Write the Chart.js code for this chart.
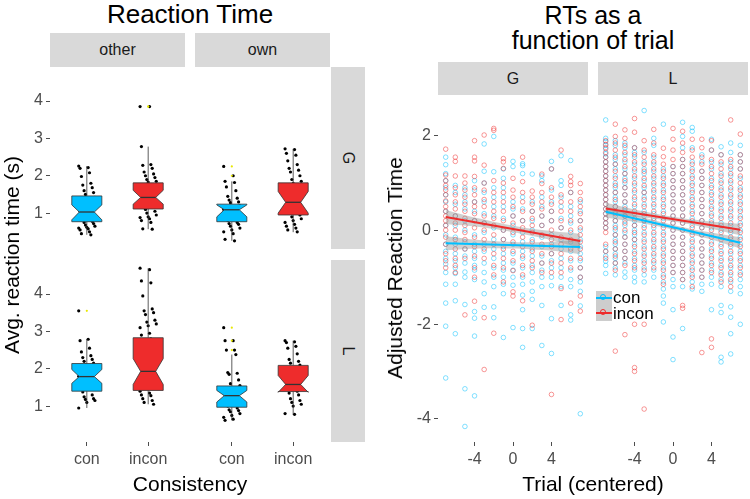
<!DOCTYPE html>
<html>
<head>
<title>Reaction Time</title>
<script src="https://cdn.jsdelivr.net/npm/chart.js"></script>
<style>
    body { margin: 0; background: #fff; font-family: "Liberation Sans", Arial, sans-serif; }
    #wrap { position: relative; width: 750px; height: 499px; overflow: hidden; }
    canvas, .lbl, .strip, .key { position: absolute; }
    .strip { background: #d9d9d9; color: #1a1a1a; font-size: 16px; display: flex; align-items: center; justify-content: center; }
    .lbl { white-space: nowrap; transform: translate(-50%, -50%); color: #000; }
    .key { width: 16px; height: 15px; background: #cdcdcd; }
    .key .kl { position: absolute; left: 0; right: 0; top: 6px; height: 2px; }
    .key .kc { position: absolute; left: 4px; top: 3px; width: 6px; height: 6px; border: 1px solid; border-radius: 50%; box-sizing: border-box; }
</style>
</head>
<body>
<div id="wrap">
    <div class="lbl" style="left:190px;top:14px;font-size:26px;">Reaction Time</div>
    <div class="lbl" style="left:593px;top:15px;font-size:25px;">RTs as a</div>
    <div class="lbl" style="left:593px;top:40px;font-size:25px;">function of trial</div>

    <div class="strip" style="left:50px;top:33px;width:135px;height:34px;">other</div>
    <div class="strip" style="left:195px;top:33px;width:135px;height:34px;">own</div>
    <div class="strip" style="left:331px;top:67px;width:34px;height:182px;"><span style="transform:rotate(90deg)">G</span></div>
    <div class="strip" style="left:331px;top:260px;width:34px;height:182px;"><span style="transform:rotate(90deg)">L</span></div>
    <div class="strip" style="left:438px;top:62px;width:150px;height:33px;">G</div>
    <div class="strip" style="left:598px;top:62px;width:150px;height:33px;">L</div>

    <canvas id="c1" width="185" height="182" style="left:0;top:67px;"></canvas>
    <canvas id="c2" width="135" height="182" style="left:195px;top:67px;"></canvas>
    <canvas id="c3" width="185" height="222" style="left:0;top:260px;"></canvas>
    <canvas id="c4" width="135" height="222" style="left:195px;top:260px;"></canvas>
    <canvas id="c5" width="208" height="387" style="left:380px;top:95px;"></canvas>
    <canvas id="c6" width="150" height="387" style="left:598px;top:95px;"></canvas>

    <div class="lbl" style="left:12px;top:255px;font-size:21px;transform:translate(-50%,-50%) rotate(-90deg);">Avg. reaction time (s)</div>
    <div class="lbl" style="left:190px;top:484px;font-size:21px;">Consistency</div>
    <div class="lbl" style="left:395px;top:268px;font-size:21px;transform:translate(-50%,-50%) rotate(-90deg);">Adjusted Reaction Time</div>
    <div class="lbl" style="left:593px;top:484px;font-size:21px;">Trial (centered)</div>

    <div class="key" style="left:596px;top:291px;"><div class="kl" style="background:#00bfff"></div><div class="kc" style="border-color:#00bfff"></div></div>
    <div class="key" style="left:596px;top:306px;"><div class="kl" style="background:#ee2c2c"></div><div class="kc" style="border-color:#ee2c2c"></div></div>
    <div class="lbl" style="left:613px;top:298px;font-size:17px;transform:translate(0,-50%);">con</div>
    <div class="lbl" style="left:613px;top:314px;font-size:17px;transform:translate(0,-50%);">incon</div>
</div>

<script>
    // ---- left: box plots, panels in order otherG, ownG, otherL, ownL; each [con, incon]
    const consistency = ['con', 'incon'];
    const boxQ1      = [[0.77, 1.11], [0.77, 0.95], [1.40, 1.42], [0.97, 1.39]];
    const boxNotchLo = [[0.82, 1.24], [0.90, 1.00], [1.61, 1.58], [1.11, 1.37]];
    const boxMedian  = [[1.03, 1.42], [1.09, 1.29], [1.79, 1.93], [1.28, 1.58]];
    const boxNotchHi = [[1.22, 1.61], [1.22, 1.58], [1.98, 2.27], [1.42, 1.82]];
    const boxQ3      = [[1.46, 1.81], [1.24, 1.81], [2.14, 2.83], [1.54, 2.09]];
    const whiskerLo  = [[0.42, 0.57], [0.26, 0.49], [0.95, 1.05], [0.62, 0.78]];
    const whiskerHi  = [[2.26, 2.78], [1.85, 2.72], [2.79, 4.69], [2.38, 2.75]];
    const outliers   = [[[], [3.85, 3.85]], [[2.25, 2.0], []], [[3.55], []], [[3.1, 2.75, 2.5], []]];

    const otherGPts = [
        [2.26, 2.22, 2.2, 2.08, 1.98, 1.8, 1.75, 1.68, 1.6, 1.55, 1.5, 1.42, 1.3, 1.2, 1.1, 1.05, 1.0, 0.95, 0.9, 0.85, 0.78, 0.75, 0.72, 0.68, 0.65, 0.62, 0.6, 0.58, 0.55, 0.5, 0.45, 0.42],
        [3.85, 3.85, 2.78, 2.3, 2.28, 2.2, 2.1, 2.05, 2.0, 1.95, 1.9, 1.85, 1.83, 1.7, 1.6, 1.5, 1.45, 1.4, 1.3, 1.2, 1.15, 1.1, 1.05, 1.0, 0.95, 0.9, 0.88, 0.85, 0.8, 0.75, 0.58, 0.57]
    ];
    const ownGPts = [
        [2.25, 2.0, 1.85, 1.82, 1.7, 1.6, 1.45, 1.4, 1.35, 1.3, 1.28, 1.2, 1.15, 1.1, 1.05, 1.0, 0.95, 0.9, 0.85, 0.8, 0.75, 0.72, 0.7, 0.65, 0.6, 0.55, 0.5, 0.45, 0.3, 0.26],
        [2.72, 2.7, 2.6, 2.55, 2.4, 2.3, 2.2, 2.15, 2.1, 2.0, 1.9, 1.85, 1.8, 1.7, 1.6, 1.5, 1.4, 1.3, 1.25, 1.2, 1.1, 1.0, 0.95, 0.9, 0.85, 0.8, 0.75, 0.7, 0.65, 0.6, 0.55, 0.5]
    ];
    const otherLPts = [
        [3.55, 2.79, 2.75, 2.55, 2.45, 2.35, 2.3, 2.25, 2.2, 2.15, 2.1, 2.0, 1.9, 1.8, 1.75, 1.7, 1.6, 1.5, 1.45, 1.38, 1.3, 1.25, 1.2, 1.18, 1.15, 1.1, 0.95],
        [4.69, 4.65, 4.35, 4.3, 3.95, 3.6, 3.55, 3.5, 3.45, 3.3, 3.25, 3.2, 3.15, 3.1, 2.95, 2.9, 2.8, 2.6, 2.4, 2.2, 2.0, 1.9, 1.8, 1.7, 1.6, 1.5, 1.4, 1.35, 1.3, 1.28, 1.2, 1.15, 1.1, 1.05]
    ];
    const ownLPts = [
        [3.1, 2.75, 2.75, 2.5, 2.5, 2.38, 1.9, 1.88, 1.85, 1.7, 1.6, 1.55, 1.5, 1.45, 1.4, 1.3, 1.25, 1.2, 1.1, 1.0, 0.95, 0.9, 0.88, 0.85, 0.8, 0.75, 0.7, 0.65, 0.62],
        [2.75, 2.72, 2.7, 2.6, 2.55, 2.4, 2.25, 2.2, 2.15, 2.1, 2.0, 1.9, 1.8, 1.7, 1.6, 1.55, 1.5, 1.45, 1.4, 1.35, 1.3, 1.2, 1.15, 1.1, 1.05, 1.0, 0.8, 0.78]
    ];

    // ---- right: adjusted RT by trial (-7..7), one list per trial
    const trials = [-7, -6, -5, -4, -3, -2, -1, 0, 1, 2, 3, 4, 5, 6, 7];
    const gCon = [
        [1.55, 1.39, 1.2, 1.05, 0.9, 0.75, 0.6, 0.4, 0.1, -0.1, -0.3, -0.45, -0.6, -0.72, -0.9, -1.15, -1.55, -2.04, -3.14],
        [0.95, 0.8, 0.55, 0.3, 0.1, -0.15, -0.3, -0.5, -0.65, -0.8, -0.92, -1.15, -1.5, -2.2],
        [0.9, 0.75, 0.6, 0.45, 0.2, 0.0, -0.25, -0.4, -0.55, -0.7, -0.89, -1.0, -1.58, -3.37, -4.17],
        [1.05, 0.85, 0.6, 0.4, 0.2, -0.1, -0.3, -0.45, -0.6, -0.75, -0.85, -1.05, -1.73, -1.87, -2.25, -3.52],
        [1.83, 1.25, 1.0, 0.8, 0.6, 0.35, 0.15, -0.05, -0.3, -0.45, -0.7, -0.9, -1.1, -1.35, -1.64],
        [1.99, 1.24, 0.9, 0.7, 0.5, 0.3, 0.05, -0.2, -0.4, -0.6, -0.8, -1.0, -1.2, -1.63, -1.86],
        [1.3, 1.1, 0.9, 0.7, 0.5, 0.25, 0.0, -0.2, -0.35, -0.5, -0.7, -0.85, -1.0, -1.15, -1.35, -2.28],
        [1.46, 1.35, 0.6, 0.45, 0.3, 0.1, -0.1, -0.3, -0.5, -0.7, -0.85, -1.0, -1.17, -2.07],
        [1.41, 1.37, 1.2, 0.7, 0.45, 0.2, -0.05, -0.25, -0.45, -0.6, -0.8, -1.0, -1.15, -1.38, -1.69, -2.09, -2.49],
        [1.19, 0.6, 0.4, 0.2, 0.0, -0.2, -0.4, -0.55, -0.75, -0.9, -1.1, -1.3, -1.47, -2.09],
        [1.15, 1.05, 0.7, 0.5, 0.3, 0.1, -0.15, -0.35, -0.55, -0.7, -0.85, -1.0, -1.2, -1.6, -2.45],
        [1.46, 1.3, 0.85, 0.6, 0.4, 0.2, -0.1, -0.3, -0.5, -0.65, -0.8, -1.0, -1.18, -1.88, -2.62],
        [1.58, 1.05, 0.95, 0.7, 0.5, 0.25, 0.05, -0.2, -0.4, -0.6, -0.8, -1.0, -1.2, -1.6],
        [1.48, 0.8, 0.5, 0.3, 0.15, -0.05, -0.25, -0.45, -0.65, -0.85, -1.05, -1.2, -1.8, -1.91],
        [0.6, 0.4, 0.2, 0.0, -0.2, -0.35, -0.5, -0.65, -0.8, -1.0, -1.1, -1.3, -1.61, -3.9]
    ];
    const gIncon = [
        [1.72, 1.17, 1.05, 0.95, 0.85, 0.75, 0.62, 0.5, 0.4, 0.3, 0.2, 0.1, 0.0, -0.15, -0.3, -0.5, -0.65, -0.8],
        [1.55, 1.46, 1.15, 0.9, 0.75, 0.6, 0.45, 0.3, 0.15, 0.0, -0.2, -0.4, -0.6, -0.75, -0.9],
        [1.15, 1.0, 0.85, 0.7, 0.55, 0.4, 0.25, 0.1, -0.05, -0.2, -0.4, -0.6, -1.8],
        [1.9, 1.55, 1.47, 1.14, 0.9, 0.75, 0.6, 0.5, 0.35, 0.2, 0.05, -0.15, -0.35, -0.55, -0.8, -1.0, -1.51],
        [2.02, 1.38, 1.0, 0.85, 0.65, 0.5, 0.3, 0.15, 0.0, -0.2, -0.4, -0.6, -1.86, -2.96],
        [2.16, 2.12, 1.05, 0.8, 0.6, 0.4, 0.25, 0.1, -0.1, -0.3, -0.5, -0.75, -0.95, -2.19],
        [1.52, 1.45, 1.31, 1.0, 0.8, 0.6, 0.4, 0.2, 0.0, -0.2, -0.4, -0.6, -0.8, -1.1],
        [1.1, 0.85, 0.7, 0.5, 0.3, 0.15, -0.05, -0.25, -0.45, -0.65, -0.86, -1.31, -1.4],
        [1.55, 1.03, 0.8, 0.6, 0.4, 0.2, 0.05, -0.15, -0.35, -0.55, -0.75, -0.95, -1.5],
        [0.83, 0.7, 0.55, 0.4, 0.25, 0.1, -0.05, -0.25, -0.45, -0.65, -0.8, -2.02],
        [1.19, 0.99, 0.8, 0.6, 0.45, 0.3, 0.1, -0.1, -0.3, -0.5, -0.7, -0.9],
        [1.3, 0.9, 0.7, 0.55, 0.4, 0.2, 0.0, -0.2, -0.35, -0.5, -0.7, -0.9, -3.49],
        [1.7, 0.75, 0.6, 0.4, 0.2, 0.05, -0.15, -0.3, -0.5, -0.7, -0.9, -1.24, -1.9],
        [1.14, 1.03, 0.95, 0.8, 0.6, 0.4, 0.2, 0.0, -0.2, -0.4, -0.6, -0.8, -1.55],
        [0.99, 0.8, 0.65, 0.5, 0.35, 0.2, 0.05, -0.1, -0.25, -0.4, -0.6, -0.8, -1.0, -1.4, -1.72]
    ];
    const lCon = [
        [2.34, 1.95, 1.88, 1.8, 1.72, 1.62, 1.55, 1.45, 1.35, 1.25, 1.15, 1.05, 0.95, 0.85, 0.75, 0.65, 0.55, 0.45, 0.35, 0.25, 0.15, 0.05, -0.35, -0.45, -0.55, -0.66, -0.75, -0.92],
        [1.9, 1.8, 1.6, 1.5, 1.4, 1.3, 1.15, 1.0, 0.9, 0.8, 0.7, 0.6, 0.5, 0.4, 0.3, 0.2, 0.1, 0.0, -0.1, -0.2, -0.3, -0.4, -0.5, -0.6, -0.7, -0.8, -0.95],
        [1.85, 1.75, 1.6, 1.45, 1.3, 1.2, 1.1, 1.0, 0.9, 0.75, 0.6, 0.5, 0.4, 0.3, 0.2, 0.1, -0.05, -0.15, -0.3, -0.45, -0.6, -0.7, -0.89, -1.0],
        [1.75, 1.65, 1.55, 1.4, 1.25, 1.1, 0.95, 0.8, 0.65, 0.5, 0.35, 0.2, 0.1, 0.0, -0.1, -0.2, -0.3, -0.45, -0.6, -0.75, -0.85, -1.0, -1.1],
        [2.54, 1.65, 1.45, 1.3, 1.2, 1.05, 0.9, 0.8, 0.7, 0.55, 0.4, 0.3, 0.2, 0.1, -0.05, -0.2, -0.35, -0.5, -0.65, -0.8, -0.95, -1.1],
        [1.95, 1.8, 1.55, 1.4, 1.25, 1.1, 0.95, 0.8, 0.65, 0.5, 0.35, 0.2, 0.05, -0.1, -0.25, -0.4, -0.55, -0.7, -0.85, -1.0],
        [2.25, 1.3, 1.15, 1.0, 0.85, 0.7, 0.55, 0.4, 0.25, 0.1, -0.05, -0.2, -0.35, -0.5, -0.65, -0.8, -0.95, -1.1, -1.25, -1.4, -1.55, -1.95],
        [1.35, 1.2, 1.05, 0.9, 0.75, 0.6, 0.45, 0.3, 0.15, 0.0, -0.15, -0.3, -0.45, -0.6, -0.75, -0.9, -1.05, -1.2, -1.69, -2.27, -2.75],
        [2.29, 1.99, 1.75, 1.5, 1.35, 1.2, 1.05, 0.9, 0.75, 0.6, 0.45, 0.3, 0.15, 0.0, -0.15, -0.3, -0.45, -0.6, -0.75, -0.9, -1.05, -1.2, -2.09],
        [2.18, 2.1, 1.75, 1.45, 1.3, 1.15, 1.0, 0.85, 0.7, 0.55, 0.4, 0.25, 0.1, -0.05, -0.2, -0.35, -0.5, -0.65, -0.8, -0.95, -1.1, -1.25],
        [1.6, 1.45, 1.25, 1.1, 0.95, 0.8, 0.65, 0.5, 0.35, 0.2, 0.05, -0.1, -0.25, -0.4, -0.55, -0.7, -0.85, -1.0, -1.15, -1.3],
        [1.93, 1.7, 1.45, 1.3, 1.1, 0.95, 0.8, 0.65, 0.5, 0.35, 0.2, 0.05, -0.1, -0.25, -0.4, -0.55, -0.7, -0.85, -1.0, -1.15, -1.69],
        [1.77, 1.6, 1.4, 1.2, 1.05, 0.9, 0.75, 0.6, 0.45, 0.3, 0.15, 0.0, -0.15, -0.3, -0.45, -0.6, -0.75, -0.9, -1.05, -1.2, -1.6, -1.75, -2.7, -2.8],
        [1.85, 1.65, 1.45, 1.3, 1.15, 1.0, 0.85, 0.7, 0.55, 0.4, 0.25, 0.1, -0.05, -0.2, -0.35, -0.5, -0.65, -0.8, -0.95, -1.1, -1.3, -1.63, -1.85, -2.2, -2.63],
        [1.8, 1.6, 1.45, 1.3, 1.1, 0.9, 0.75, 0.6, 0.45, 0.3, 0.15, 0.0, -0.15, -0.3, -0.45, -0.6, -0.75, -0.9, -1.05, -1.2, -1.35, -2.0]
    ];
    const lIncon = [
        [1.9, 1.82, 1.75, 1.65, 1.55, 1.45, 1.35, 1.25, 1.15, 1.05, 0.95, 0.85, 0.75, 0.65, 0.55, 0.45, 0.35, 0.25, 0.15, 0.05, -0.05, -0.3, -0.45, -0.6],
        [2.25, 1.99, 1.85, 1.7, 1.55, 1.4, 1.25, 1.1, 0.95, 0.8, 0.65, 0.5, 0.35, 0.2, 0.05, -0.1, -0.25, -0.4, -0.55, -0.7, -0.85, -2.57],
        [2.13, 1.95, 1.8, 1.65, 1.5, 1.35, 1.2, 1.05, 0.9, 0.75, 0.6, 0.45, 0.3, 0.15, 0.0, -0.15, -0.3, -0.45, -0.6, -0.75, -2.22],
        [2.37, 2.08, 1.75, 1.6, 1.45, 1.3, 1.15, 1.0, 0.85, 0.7, 0.55, 0.4, 0.25, 0.1, -0.05, -0.2, -0.35, -0.5, -0.65, -0.8, -2.0, -2.92, -3.0],
        [1.9, 1.7, 1.55, 1.4, 1.25, 1.1, 0.95, 0.8, 0.65, 0.5, 0.35, 0.2, 0.05, -0.1, -0.25, -0.4, -0.55, -0.7, -0.85, -2.0, -3.8],
        [2.14, 1.85, 1.6, 1.45, 1.3, 1.15, 1.0, 0.85, 0.7, 0.55, 0.4, 0.25, 0.1, -0.05, -0.2, -0.35, -0.5, -0.65, -0.8],
        [1.74, 1.56, 1.4, 1.25, 1.1, 0.95, 0.8, 0.65, 0.5, 0.35, 0.2, 0.05, -0.1, -0.25, -0.4, -0.55, -0.7, -0.85, -1.0, -1.15],
        [2.16, 1.93, 1.7, 1.5, 1.35, 1.2, 1.05, 0.9, 0.75, 0.6, 0.45, 0.3, 0.15, 0.0, -0.15, -0.3, -0.45, -0.6, -0.75, -0.9],
        [2.1, 1.85, 1.65, 1.5, 1.35, 1.2, 1.05, 0.9, 0.75, 0.6, 0.45, 0.3, 0.15, 0.0, -0.15, -0.3, -0.45, -0.6, -0.75, -0.9, -1.05, -1.6, -1.66],
        [1.93, 1.7, 1.55, 1.4, 1.25, 1.1, 0.95, 0.8, 0.65, 0.5, 0.35, 0.2, 0.05, -0.1, -0.25, -0.4, -0.55, -0.7, -0.85, -1.0, -1.2],
        [1.93, 1.75, 1.55, 1.4, 1.25, 1.1, 0.95, 0.8, 0.65, 0.5, 0.35, 0.2, 0.05, -0.1, -0.25, -0.4, -0.55, -0.7, -0.85, -1.0, -2.6],
        [1.9, 1.7, 1.5, 1.35, 1.2, 1.05, 0.9, 0.75, 0.6, 0.45, 0.3, 0.15, 0.0, -0.15, -0.3, -0.45, -0.6, -0.75, -0.9, -2.31, -2.49],
        [1.6, 1.45, 1.3, 1.15, 1.0, 0.85, 0.7, 0.55, 0.4, 0.25, 0.1, -0.05, -0.2, -0.35, -0.5, -0.65, -0.8, -0.95, -1.1],
        [2.34, 1.5, 1.35, 1.2, 1.05, 0.9, 0.75, 0.6, 0.45, 0.3, 0.15, 0.0, -0.15, -0.3, -0.45, -0.6, -0.75, -0.9, -1.05, -1.2],
        [2.04, 1.6, 1.45, 1.3, 1.15, 1.0, 0.85, 0.7, 0.55, 0.4, 0.25, 0.1, -0.05, -0.2, -0.35, -0.5, -0.65, -0.8, -0.95]
    ];

    // fitted lines (at trial -7 and 7) and confidence bands
    const fitEnds = [-7, 7];
    const gConFit = [-0.28, -0.36], gInconFit = [0.28, -0.23];
    const lConFit = [0.39, -0.27], lInconFit = [0.46, 0.01];
    const bandTrials = [-7, -3.5, 0, 3.5, 7];
    const gConUp = [-0.13, -0.21, -0.25, -0.25, -0.21], gConLo = [-0.43, -0.39, -0.39, -0.43, -0.51];
    const gIncUp = [0.43, 0.245, 0.095, -0.01, -0.08], gIncLo = [0.13, 0.065, -0.045, -0.19, -0.38];
    const lConUp = [0.51, 0.295, 0.11, -0.035, -0.15], lConLo = [0.27, 0.155, 0.01, -0.175, -0.39];
    const lIncUp = [0.58, 0.418, 0.285, 0.193, 0.13], lIncLo = [0.34, 0.278, 0.185, 0.053, -0.11];

    const BLUE = '#00bfff', RED = '#ee2c2c';
    const FONT = '"Liberation Sans", Arial, sans-serif';
    Chart.defaults.font.family = FONT;

    const tickGrid = { drawOnChartArea: false, drawTicks: true, tickLength: 4, color: '#4d4d4d' };

    // fixed axis sizes, no label overhang padding, so panels line up
    function fixY(w) {
        return s => { s.width = w; s.paddingTop = 0; s.paddingBottom = 0; };
    }
    function fixX(h) {
        return s => { s.height = h; s.paddingLeft = 0; s.paddingRight = 0; };
    }

    // draws the notched boxes after the jitter points, before the outliers
    const boxPlugin = {
        id: 'boxes',
        afterDatasetDraw(chart, args, opts) {
            if (args.index !== 1) return;
            const p = opts.panel;
            const xs = chart.scales.x, ys = chart.scales.y, ctx = chart.ctx;
            const fills = [BLUE, RED];
            for (let c = 0; c < 2; c++) {
                const X = xs.getPixelForValue(c + 1);
                const L = xs.getPixelForValue(c + 1 - 0.245), R = xs.getPixelForValue(c + 1 + 0.245);
                const ins = (R - L) / 4;
                const y = v => ys.getPixelForValue(v);
                ctx.save();
                ctx.strokeStyle = '#333333';
                ctx.lineWidth = 0.8;
                ctx.beginPath();
                ctx.moveTo(X, y(boxQ3[p][c])); ctx.lineTo(X, y(whiskerHi[p][c]));
                ctx.moveTo(X, y(boxQ1[p][c])); ctx.lineTo(X, y(whiskerLo[p][c]));
                ctx.stroke();
                ctx.beginPath();
                ctx.moveTo(L, y(boxQ3[p][c]));
                ctx.lineTo(R, y(boxQ3[p][c]));
                ctx.lineTo(R, y(boxNotchHi[p][c]));
                ctx.lineTo(R - ins, y(boxMedian[p][c]));
                ctx.lineTo(R, y(boxNotchLo[p][c]));
                ctx.lineTo(R, y(boxQ1[p][c]));
                ctx.lineTo(L, y(boxQ1[p][c]));
                ctx.lineTo(L, y(boxNotchLo[p][c]));
                ctx.lineTo(L + ins, y(boxMedian[p][c]));
                ctx.lineTo(L, y(boxNotchHi[p][c]));
                ctx.closePath();
                ctx.fillStyle = fills[c];
                ctx.fill();
                ctx.stroke();
                ctx.lineWidth = 1.3;
                ctx.beginPath();
                ctx.moveTo(L + ins, y(boxMedian[p][c]));
                ctx.lineTo(R - ins, y(boxMedian[p][c]));
                ctx.stroke();
                ctx.restore();
            }
        }
    };

    function boxChart(id, panel, pts, showY, showX) {
        const jitter = [];
        const outs = [];
        pts.forEach((vals, c) => {
            vals.forEach((v, i) => jitter.push({ x: c + 1 + ((((i * 7) % 13) - 6) * 0.022), y: v }));
            outliers[panel][c].forEach(v => outs.push({ x: c + 1, y: v }));
        });
        new Chart(document.getElementById(id), {
            type: 'scatter',
            data: {
                datasets: [
                    { data: outs, pointRadius: 1.1, pointBackgroundColor: '#e8e800', pointBorderWidth: 0 },
                    { data: jitter, pointRadius: 1.6, pointBackgroundColor: '#000', pointBorderWidth: 0 }
                ]
            },
            plugins: [boxPlugin],
            options: {
                responsive: false, animation: false, events: [],
                layout: { padding: 0, autoPadding: false },
                plugins: { legend: { display: false }, tooltip: { enabled: false }, boxes: { panel: panel } },
                scales: {
                    x: {
                        type: 'linear', min: 0.4, max: 2.6, display: showX,
                        afterBuildTicks: s => { s.ticks = [{ value: 1 }, { value: 2 }]; },
                        afterFit: fixX(showX ? 40 : 0),
                        ticks: { callback: v => consistency[v - 1], font: { size: 16 }, color: '#4d4d4d', padding: 4, maxRotation: 0 },
                        grid: tickGrid, border: { display: false }
                    },
                    y: {
                        min: 0.04, max: 4.91, display: showY,
                        afterBuildTicks: s => { s.ticks = [1, 2, 3, 4].map(v => ({ value: v })); },
                        afterFit: fixY(showY ? 50 : 0),
                        ticks: { font: { size: 16 }, color: '#4d4d4d', padding: 3 },
                        grid: tickGrid, border: { display: false }
                    }
                }
            }
        });
    }

    boxChart('c1', 0, otherGPts, true, false);
    boxChart('c2', 1, ownGPts, false, false);
    boxChart('c3', 2, otherLPts, true, true);
    boxChart('c4', 3, ownLPts, false, true);

    function toPoints(cols) {
        const out = [];
        cols.forEach((vals, i) => vals.forEach(v => out.push({ x: trials[i], y: v })));
        return out;
    }
    function pairs(xs, ys) { return xs.map((x, i) => ({ x: x, y: ys[i] })); }

    function trialChart(id, con, incon, conFit, incFit, conUp, conLo, incUp, incLo, showY) {
        const band = { type: 'line', pointRadius: 0, borderWidth: 0, tension: 0.4, backgroundColor: 'rgba(150,150,150,0.45)', order: 1 };
        new Chart(document.getElementById(id), {
            type: 'scatter',
            data: {
                datasets: [
                    { type: 'line', data: pairs(fitEnds, conFit), borderColor: BLUE, borderWidth: 2, pointRadius: 0, fill: false, order: 0 },
                    { type: 'line', data: pairs(fitEnds, incFit), borderColor: RED, borderWidth: 2, pointRadius: 0, fill: false, order: 0 },
                    Object.assign({ data: pairs(bandTrials, conUp), fill: '+1' }, band),
                    Object.assign({ data: pairs(bandTrials, conLo), fill: false }, band),
                    Object.assign({ data: pairs(bandTrials, incUp), fill: '+1' }, band),
                    Object.assign({ data: pairs(bandTrials, incLo), fill: false }, band),
                    { data: toPoints(incon), pointRadius: 2.3, pointBorderWidth: 0.9, pointBorderColor: 'rgba(238,44,44,0.55)', pointBackgroundColor: 'rgba(0,0,0,0)', order: 2 },
                    { data: toPoints(con), pointRadius: 2.3, pointBorderWidth: 0.9, pointBorderColor: 'rgba(0,191,255,0.55)', pointBackgroundColor: 'rgba(0,0,0,0)', order: 3 }
                ]
            },
            options: {
                responsive: false, animation: false, events: [],
                layout: { padding: 0, autoPadding: false },
                plugins: { legend: { display: false }, tooltip: { enabled: false } },
                scales: {
                    x: {
                        type: 'linear', min: -7.8, max: 7.8,
                        afterBuildTicks: s => { s.ticks = [-4, 0, 4].map(v => ({ value: v })); },
                        afterFit: fixX(40),
                        ticks: { font: { size: 16 }, color: '#4d4d4d', padding: 4, maxRotation: 0 },
                        grid: tickGrid, border: { display: false }
                    },
                    y: {
                        min: -4.5, max: 2.87, display: showY,
                        afterBuildTicks: s => { s.ticks = [-4, -2, 0, 2].map(v => ({ value: v })); },
                        afterFit: fixY(showY ? 58 : 0),
                        ticks: { font: { size: 16 }, color: '#4d4d4d', padding: 3 },
                        grid: tickGrid, border: { display: false }
                    }
                }
            }
        });
    }

    trialChart('c5', gCon, gIncon, gConFit, gInconFit, gConUp, gConLo, gIncUp, gIncLo, true);
    trialChart('c6', lCon, lIncon, lConFit, lInconFit, lConUp, lConLo, lIncUp, lIncLo, false);
</script>
</body>
</html>
